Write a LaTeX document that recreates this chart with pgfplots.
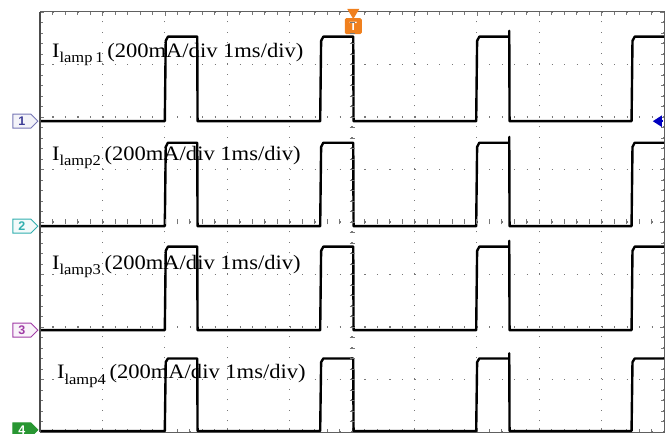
\documentclass[border=0pt]{standalone}
\usepackage{pgfplots}
\pgfplotsset{compat=1.18}
\usepackage{pgfplotstable}
\usepackage{fontspec}
\setmainfont{Liberation Serif}
\setsansfont{Liberation Sans}
\usetikzlibrary{shapes.symbols,arrows.meta}
\definecolor{trigorange}{RGB}{240,128,30}
\definecolor{chone}{RGB}{60,60,150}
\definecolor{chtwo}{RGB}{50,175,175}
\definecolor{chthree}{RGB}{160,60,165}
\definecolor{chfour}{RGB}{40,150,50}
\definecolor{gridgray}{RGB}{120,120,120}

\pgfplotstableread{
x y
0 5.92
2.00 5.92
2.015 7.45
2.05 7.53
2.52 7.53
2.525 5.92
4.49 5.92
4.505 7.45
4.54 7.53
5.02 7.53
5.025 5.92
6.99 5.92
7.005 7.45
7.04 7.53
7.52 7.53
7.52 7.64
7.525 5.92
9.48 5.92
9.495 7.45
9.53 7.53
10 7.53
}\traceone
\pgfplotstableread{
x y
0 3.92
2.00 3.92
2.015 5.43
2.05 5.51
2.52 5.51
2.525 3.92
4.49 3.92
4.505 5.43
4.54 5.51
5.02 5.51
5.025 3.92
6.99 3.92
7.005 5.43
7.04 5.51
7.52 5.51
7.52 5.62
7.525 3.92
9.48 3.92
9.495 5.43
9.53 5.51
10 5.51
}\tracetwo
\pgfplotstableread{
x y
0 1.94
2.00 1.94
2.015 3.45
2.05 3.53
2.52 3.53
2.525 1.94
4.49 1.94
4.505 3.45
4.54 3.53
5.02 3.53
5.025 1.94
6.99 1.94
7.005 3.45
7.04 3.53
7.52 3.53
7.52 3.64
7.525 1.94
9.48 1.94
9.495 3.45
9.53 3.53
10 3.53
}\tracethree
\pgfplotstableread{
x y
0 0.02
2.00 0.02
2.015 1.33
2.05 1.40
2.52 1.40
2.525 0.02
4.49 0.02
4.505 1.33
4.54 1.40
5.02 1.40
5.025 0.02
6.99 0.02
7.005 1.33
7.04 1.40
7.52 1.40
7.52 1.50
7.525 0.02
9.48 0.02
9.495 1.33
9.53 1.40
10 1.40
}\tracefour

\newcommand{\lamplabel}[1]{\scalebox{1.1}[1]{\fontsize{20.5bp}{24bp}\selectfont I\raisebox{-0.25em}{\fontsize{15bp}{15bp}\selectfont lamp#1}\,(200mA/div 1ms/div)}}
\tikzset{chmark/.style={signal, signal to=east, line width=0.9bp,
  font=\sffamily\bfseries\fontsize{12.5bp}{12.5bp}\selectfont, inner sep=1bp,
  minimum height=14bp, minimum width=25bp, anchor=east}}

\begin{document}
\begin{tikzpicture}
\useasboundingbox (0,0) rectangle (671bp,434bp);
\begin{axis}[
  at={(40bp,2bp)}, anchor=south west,
  scale only axis, width=624bp, height=420bp,
  xmin=0, xmax=10, ymin=0, ymax=8,
  xtick={0,...,10}, ytick={0,...,8},
  minor x tick num=4, minor y tick num=4,
  xticklabels={}, yticklabels={},
  tick align=inside,
  major tick length=4bp, minor tick length=3bp,
  tick style={gridgray, line width=0.6bp},
  grid=major,
  major x grid style={gridgray, line width=1.1bp, dash pattern=on 1.1bp off 9.4bp},
  major y grid style={gridgray, line width=1.1bp, dash pattern=on 1.1bp off 11.38bp},
  axis line style={gridgray!80!black, line width=1bp},
  clip=false,
]
\addplot[black, line width=2.4bp, line join=round] table[x=x,y=y] {\traceone};
\addplot[black, line width=2.4bp, line join=round] table[x=x,y=y] {\tracetwo};
\addplot[black, line width=2.4bp, line join=round] table[x=x,y=y] {\tracethree};
\addplot[black, line width=2.4bp, line join=round] table[x=x,y=y] {\tracefour};

\node[anchor=base west, inner sep=0] at (axis cs:0.19,7.14) {\lamplabel{\,1}};
\node[anchor=base west, inner sep=0] at (axis cs:0.19,5.18) {\lamplabel{2}};
\node[anchor=base west, inner sep=0] at (axis cs:0.19,3.09) {\lamplabel{3}};
\node[anchor=base west, inner sep=0] at (axis cs:0.27,1.01) {\lamplabel{4}};

% channel markers
\node[chmark, draw=chone!70, fill=chone!6, text=chone] at ([xshift=-1.5bp]axis cs:0,5.92) {1};
\node[chmark, draw=chtwo, fill=chtwo!6, text=chtwo] at ([xshift=-1.5bp]axis cs:0,3.92) {2};
\node[chmark, draw=chthree, fill=chthree!6, text=chthree] at ([xshift=-1.5bp]axis cs:0,1.94) {3};
\node[chmark, draw=chfour, fill=chfour, text=white] at ([xshift=-1.5bp,yshift=1bp]axis cs:0,0.02) {4};

% trigger marker
\fill[trigorange] ([xshift=-6bp,yshift=3bp]axis cs:5.02,8) -- ([xshift=6bp,yshift=3bp]axis cs:5.02,8) -- ([yshift=-7bp]axis cs:5.02,8) -- cycle;
\node[fill=trigorange, text=white, font=\sffamily\bfseries\fontsize{12bp}{12bp}\selectfont,
  minimum width=17bp, minimum height=16bp, inner sep=0, rounded corners=1.5bp, anchor=north]
  at ([yshift=-6bp]axis cs:5.02,8) {T};

% level arrow at right
\draw[blue!75!black, line width=1.8bp, -{Triangle[length=9bp,width=11bp]}] (axis cs:9.98,5.92) -- (axis cs:9.82,5.92);
\end{axis}

% thick left frame and centre-line ticks
\begin{scope}[shift={(40bp,2bp)}, x=62.4bp, y=52.5bp]
  \draw[black!70, line width=2.6bp] (0,0) -- (0,8);
  \foreach \i in {0.2,0.4,...,9.9} \draw[gridgray, line width=0.6bp] (\i,4) ++(0,-2.5bp) -- ++(0,5bp);
  \foreach \j in {0.2,0.4,...,7.9} \draw[gridgray, line width=0.6bp] (5,\j) ++(-2.5bp,0) -- ++(5bp,0);
\end{scope}
\end{tikzpicture}
\end{document}
